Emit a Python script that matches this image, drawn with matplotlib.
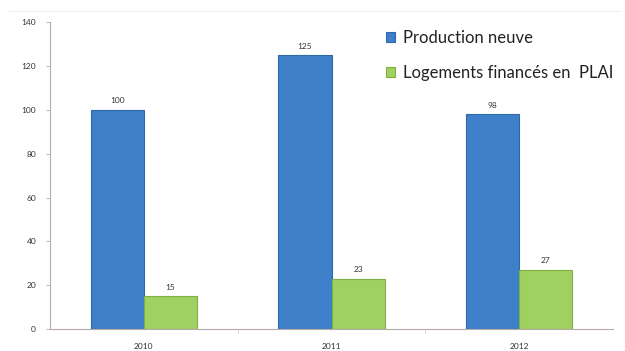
# Production neuve vs logements financés en PLAI

import matplotlib.pyplot as plt
import numpy as np

annees = ['2010', '2011', '2012']
production_neuve = [100, 125, 98]
logements_plai = [15, 23, 27]

plt.rcParams['font.family'] = ['Lato', 'DejaVu Sans']

fig = plt.figure(figsize=(6.25, 3.51), dpi=100)
ax = fig.add_axes([0.08, 0.0627, 0.901, 0.874])

x = np.arange(len(annees))
largeur = 0.283

b1 = ax.bar(x - largeur / 2, production_neuve, largeur, color='#3d80c9',
            edgecolor='#2f68a6', linewidth=0.8, label='Production neuve')
b2 = ax.bar(x + largeur / 2, logements_plai, largeur, color='#a0d160',
            edgecolor='#7fae42', linewidth=0.8, label='Logements financés en  PLAI')

for barres, valeurs in ((b1, production_neuve), (b2, logements_plai)):
    for b, v in zip(barres, valeurs):
        ax.text(b.get_x() + b.get_width() / 2, v + 2.5, str(v),
                ha='center', va='bottom', fontsize=6, color='#333333')

ax.set_xlim(-0.5, 2.5)
ax.set_ylim(0, 140)
ax.set_yticks(np.arange(0, 141, 20))
ax.set_xticks(x)
ax.set_xticklabels(annees)
ax.set_xticks([0.5, 1.5], minor=True)

for cote in ('top', 'right'):
    ax.spines[cote].set_visible(False)
ax.spines['left'].set_color('#b8aaa8')
ax.spines['bottom'].set_color('#b8aaa8')
ax.tick_params(axis='y', labelsize=6, colors='#b8aaa8', labelcolor='#333333',
               length=3, width=0.6, pad=7)
ax.tick_params(axis='x', which='major', labelsize=6, labelcolor='#333333',
               length=0, pad=10)
ax.tick_params(axis='x', which='minor', length=3, width=0.6, colors='#cccccc')

fig.add_artist(plt.Line2D([0.015, 0.99], [0.968, 0.968], color='#eeeeee', lw=0.8))

ax.legend(loc='upper left', bbox_to_anchor=(0.594, 0.958), bbox_transform=fig.transFigure,
          frameon=False, fontsize=12, handlelength=0.55, handleheight=0.55,
          handletextpad=0.45, labelspacing=1.15, labelcolor='#222222')

fig.savefig('out.png', dpi=100)
